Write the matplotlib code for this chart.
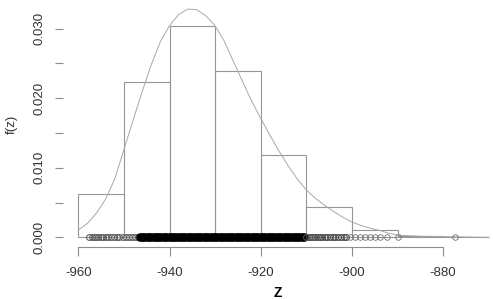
import numpy as np
import matplotlib
matplotlib.use('Agg')
import matplotlib.pyplot as plt

plt.rcParams['font.family'] = ['Liberation Sans', 'DejaVu Sans']
plt.rcParams['axes.unicode_minus'] = False

# histogram (density scale), bins of width 10
bin_edges = [-960, -950, -940, -930, -920, -910, -900, -890, -880, -870]
bin_density = [0.0062, 0.0223, 0.0304, 0.0239, 0.0118, 0.0043, 0.00105, 0.0002, 0.0001]

# fitted density curve
curve_z = [-960, -958, -956, -954, -952, -950, -948, -946, -944, -942, -940, -938,
           -936, -934, -932, -930, -928, -926, -924, -922, -920, -918, -916, -914,
           -912, -910, -908, -906, -904, -902, -900, -898, -896, -894, -892, -890,
           -885, -880, -875, -870]
curve_f = [0.00105, 0.0020, 0.0035, 0.0055, 0.0084, 0.0126, 0.0168, 0.0209, 0.0248,
           0.0281, 0.0304, 0.0320, 0.0328, 0.0327, 0.0318, 0.0304, 0.0282, 0.0253,
           0.0224, 0.0196, 0.0171, 0.0147, 0.0124, 0.0103, 0.0084, 0.0068, 0.0056,
           0.0046, 0.0037, 0.0029, 0.0022, 0.0017, 0.0013, 0.0010, 0.0006, 0.0003,
           0.00015, 0.0001, 0.00005, 0.0]

# observed z values shown as circles along f = 0
z_left = [-957.6, -957.1, -956.6, -956.1, -955.6, -955.1, -954.6, -954.0, -953.4,
          -952.8, -952.2, -951.6, -951.0, -950.3, -949.6, -948.9, -948.2, -947.5,
          -947.0]
z_core = [-946.5, -946.0, -945.5, -945.0, -944.5, -944.0, -943.5, -943.0, -942.5,
          -942.0, -941.5, -941.0, -940.5, -940.0, -939.5, -939.0, -938.5, -938.0,
          -937.5, -937.0, -936.5, -936.0, -935.5, -935.0, -934.5, -934.0, -933.5,
          -933.0, -932.5, -932.0, -931.5, -931.0, -930.5, -930.0, -929.5, -929.0,
          -928.5, -928.0, -927.5, -927.0, -926.5, -926.0, -925.5, -925.0, -924.5,
          -924.0, -923.5, -923.0, -922.5, -922.0, -921.5, -921.0, -920.5, -920.0,
          -919.5, -919.0, -918.5, -918.0, -917.5, -917.0, -916.5, -916.0, -915.5,
          -915.0, -914.5, -914.0, -913.5, -913.0, -912.5, -912.0, -911.5, -911.0,
          -910.5]
z_mid = [-910.0, -909.5, -909.0, -908.5, -908.0, -907.5, -907.0, -906.5, -906.0,
         -905.4, -904.8, -904.2, -903.6, -903.0, -902.4, -901.8, -901.2]
z_right = [-900.4, -899.3, -898.2, -897.1, -896.0, -894.9, -893.8, -892.4, -889.8,
           -877.5]

x_ticks = [-960, -940, -920, -900, -880]
y_ticks = [0.000, 0.005, 0.010, 0.015, 0.020, 0.025, 0.030]
y_labels = ['0.000', '', '0.010', '', '0.020', '', '0.030']

fig = plt.figure(figsize=(4.93, 2.99), dpi=100)
ax = fig.add_axes([63 / 493, 52 / 299, 430 / 493, 245 / 299])

# histogram outline
ax.bar(bin_edges[:-1], bin_density, width=10, align='edge',
       facecolor='none', edgecolor='#969696', linewidth=0.8)

ax.plot(curve_z, curve_f, color='#a8a8a8', linewidth=0.7)

ax.plot(z_left, [0] * len(z_left), 'o', mfc='none', mec='#606060', ms=4.2, mew=0.8)
ax.plot(z_core, [0] * len(z_core), 'o', mfc='none', mec='black', ms=4.2, mew=2.0)
ax.plot(z_mid, [0] * len(z_mid), 'o', mfc='none', mec='#505050', ms=4.2, mew=0.8)
ax.plot(z_right, [0] * len(z_right), 'o', mfc='none', mec='#707070', ms=4.0, mew=0.6)

ax.set_xlim(-960 - 15.3 / 4.56, -960 + 414.7 / 4.56)
ax.set_ylim(-9.7 / 6960, 235.3 / 6960)

for s in ['top', 'right', 'left']:
    ax.spines[s].set_visible(False)
ax.spines['bottom'].set_bounds(-960, -880)
ax.spines['bottom'].set_color('#8c8c8c')

ax.set_xticks(x_ticks)
ax.set_yticks(y_ticks)
ax.set_yticklabels(y_labels, rotation=90, va='center')
ax.tick_params(axis='x', length=6.5, width=0.8, color='#8c8c8c', pad=8,
               labelsize=9.5, labelcolor='#333333')
ax.tick_params(axis='y', length=5.8, width=0.8, color='#8c8c8c', pad=7,
               labelsize=9.5, labelcolor='#333333')

ax.set_xlabel('Z', fontsize=10, fontweight='bold', labelpad=5)
ax.set_ylabel('f(z)', fontsize=9.5, color='#333333', labelpad=11)

fig.savefig('out.png', dpi=100)
